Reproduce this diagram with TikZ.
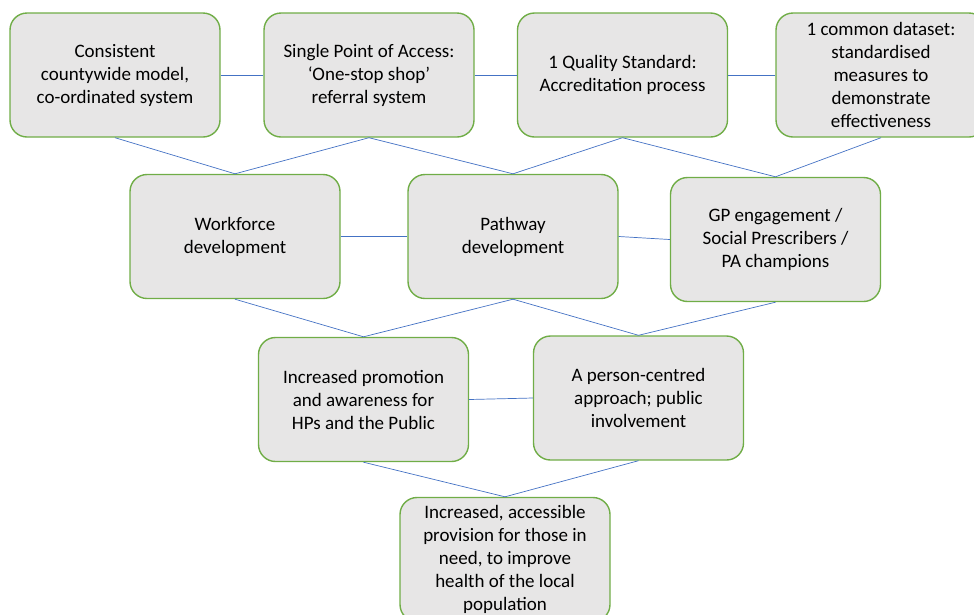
\documentclass[tikz,border=0pt]{standalone}
\usepackage{fontspec}
\setmainfont{Carlito}
\definecolor{boxgreen}{HTML}{70AD47}
\definecolor{boxfill}{HTML}{E7E6E6}
\definecolor{linkblue}{HTML}{4472C4}
\begin{document}
\begin{tikzpicture}[x=1pt,y=-1pt,
  box/.style={draw=boxgreen, line width=1.4pt, fill=boxfill, rounded corners=17pt,
    minimum width=210pt, minimum height=124pt, align=center, inner sep=0pt,
    font=\fontsize{19}{23}\selectfont, text=black},
  link/.style={draw=linkblue, line width=0.7pt}]
\useasboundingbox (0,0) rectangle (974,614);
% top row
\node[box] (A) at (115,75) {Consistent\\countywide model,\\co-ordinated system};
\node[box] (B) at (369,75) {Single Point of Access:\\‘One-stop shop’\\referral system};
\node[box] (C) at (622.5,75) {1 Quality Standard:\\Accreditation process};
\node[box] (D) at (881,75) {1 common dataset:\\standardised\\measures to\\demonstrate\\effectiveness};
% middle row
\node[box] (E) at (235,236.5) {Workforce\\development};
\node[box] (F) at (513,236.5) {Pathway\\development};
\node[box] (G) at (775.5,239.5) {GP engagement /\\Social Prescribers /\\PA champions};
% bottom rows
\node[box] (H) at (363.5,399.5) {Increased promotion\\and awareness for\\HPs and the Public};
\node[box] (I) at (638.5,398) {A person-centred\\approach; public\\involvement};
\node[box] (J) at (505,559.5) {Increased, accessible\\provision for those in\\need, to improve\\health of the local\\population};
% horizontal links
\draw[link] (A.east) -- (B.west);
\draw[link] (B.east) -- (C.west);
\draw[link] (C.east) -- (D.west);
\draw[link] (E.east) -- (F.west);
\draw[link] (F.east) -- (G.west);
\draw[link] (H.east) -- (I.west);
% diagonal links
\draw[link] (A.south) -- (E.north);
\draw[link] (B.south) -- (E.north);
\draw[link] (B.south) -- (F.north);
\draw[link] (C.south) -- (F.north);
\draw[link] (C.south) -- (G.north);
\draw[link] (D.south) -- (G.north);
\draw[link] (E.south) -- (H.north);
\draw[link] (F.south) -- (H.north);
\draw[link] (F.south) -- (I.north);
\draw[link] (G.south) -- (I.north);
\draw[link] (H.south) -- (J.north);
\draw[link] (I.south) -- (J.north);
\end{tikzpicture}
\end{document}
